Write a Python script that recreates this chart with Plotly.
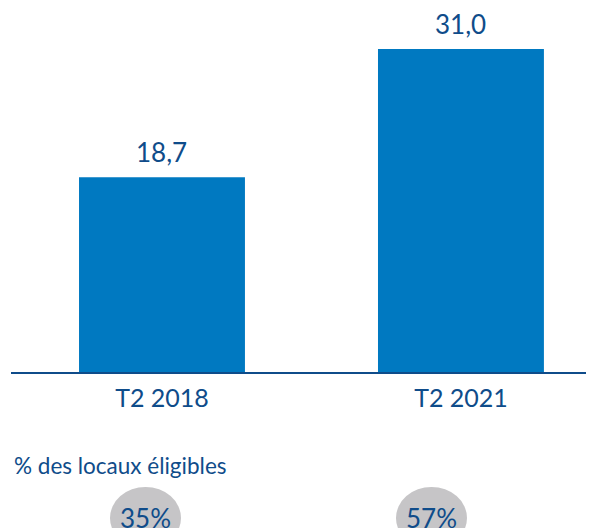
import plotly.graph_objects as go

categories = ["T2 2018", "T2 2021"]
values = [18.7, 31.0]
eligible_pct = ["35%", "57%"]
subtitle = "% des locaux éligibles"

BAR = "#0079c1"
DARK = "#0f4c8a"
GREY = "#c6c5c7"
FONT = "Lato"

labels = [f"{v:.1f}".replace(".", ",") for v in values]
xs = list(range(len(categories)))

fig = go.Figure(go.Bar(
    x=xs, y=values,
    marker=dict(color=BAR, line=dict(width=0)),
    width=0.555,
))

OFF = 8  # page body margin
W, H = 594 - OFF, 528 - OFF
L, T = 11 - OFF, 0
BASE = 372 - OFF
B = H - BASE
pw, ph = W - L, BASE - T

def px_x(p):
    return (p - OFF - L) / pw

def px_y(p):
    return (BASE - (p - OFF)) / ph

shapes = []
annotations = [dict(text=lab, x=x, y=v, xref="x", yref="y", xanchor="center", yanchor="bottom",
                    yshift=7, showarrow=False, font=dict(size=26, color=DARK, family=FONT))
               for x, v, lab in zip(xs, values, labels)]
annotations.append(dict(text=subtitle, xref="paper", yref="paper", x=px_x(12), y=px_y(465),
                        xanchor="left", yanchor="middle", showarrow=False,
                        font=dict(size=22.5, color=DARK, family=FONT)))
for (x0, x1), t in zip([(110, 181), (396, 467)], eligible_pct):
    shapes.append(dict(type="circle", xref="paper", yref="paper",
                       x0=px_x(x0), x1=px_x(x1), y0=px_y(487), y1=px_y(549),
                       fillcolor=GREY, line=dict(width=0), layer="below"))
    annotations.append(dict(text=t, xref="paper", yref="paper", x=px_x((x0 + x1) / 2), y=px_y(518),
                            xanchor="center", yanchor="middle", showarrow=False,
                            font=dict(size=26, color=DARK, family=FONT)))

fig.update_layout(
    width=W, height=H, margin=dict(l=L, r=0, t=T, b=B),
    paper_bgcolor="white", plot_bgcolor="white", showlegend=False,
    shapes=shapes, annotations=annotations,
    xaxis=dict(range=[-0.505, 1.445], tickvals=xs, ticktext=categories,
               showline=True, linecolor=DARK, linewidth=2, showgrid=False, zeroline=False,
               ticks="", ticklabelstandoff=3,
               tickfont=dict(size=25, color=DARK, family=FONT), fixedrange=True),
    yaxis=dict(range=[0, 34.93], visible=False, showgrid=False, zeroline=False, fixedrange=True),
)

fig.write_html("out.html")
